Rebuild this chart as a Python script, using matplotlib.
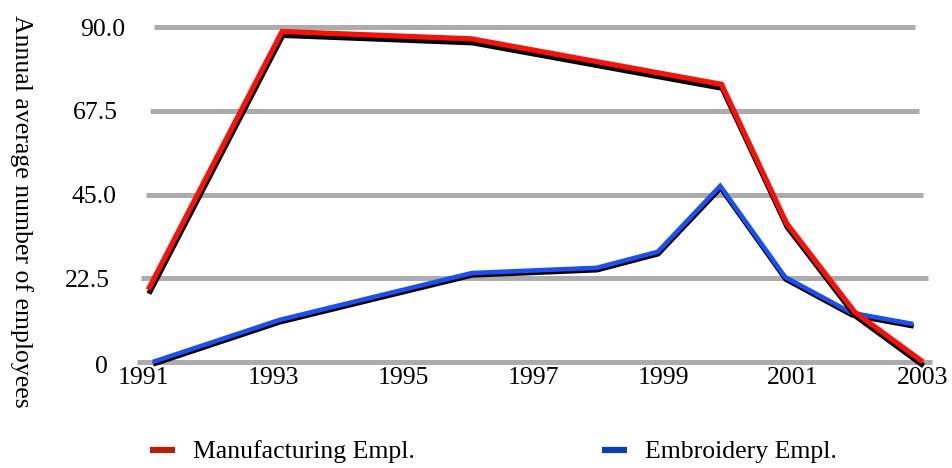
import matplotlib
matplotlib.use("Agg")
import matplotlib.pyplot as plt
import matplotlib.patheffects as pe
from matplotlib.lines import Line2D
from matplotlib.transforms import ScaledTranslation

# Annual average employment, read as (year, value) pairs
manuf_years = [1991.08, 1993.14, 1996.06, 1997.98, 1998.92, 1999.9, 2000.9, 2001.95, 2003.0]
manuf_empl = [19.4, 88.8, 86.8, 80.7, 77.7, 74.6, 37.3, 13.4, 0.0]

embr_years = [1991.15, 1993.1, 1996.06, 1997.98, 1998.92, 1999.88, 2000.88, 2001.9, 2002.85]
embr_empl = [0.0, 11.3, 23.9, 25.3, 29.6, 47.3, 22.8, 13.2, 10.2]

y_ticks = [0, 22.5, 45.0, 67.5, 90.0]
y_tick_labels = ["0", "22.5", "45.0", "67.5", "90.0"]
x_ticks = [1991, 1993, 1995, 1997, 1999, 2001, 2003]
x_tick_labels = ["1991", "1993", "1995", "1997", "1999", "2001", "2003"]

series_names = ["Manufacturing Empl.", "Embroidery Empl."]
line_colors = ["#f5120a", "#1c4ef0"]
legend_colors = ["#b4200e", "#0c40ac"]

FONT = "Liberation Serif"
FS = 18.5
W, H = 953, 468

fig = plt.figure(figsize=(W / 100, H / 100), dpi=100)
ax = fig.add_axes([130 / W, (H - 366) / H, 810 / W, 350 / H])

ax.set_xlim(1990.8, 2003.2615)
ax.set_ylim(-4 / 3.7222, 90 + 11 / 3.7222)
for s in ax.spines.values():
    s.set_visible(False)

# horizontal grid bands, slightly inset for a receding look
grid_spans = [(0.0086, 0.990), (0.0136, 0.985), (0.0198, 0.979), (0.0247, 0.974), (0.0296, 0.969)]
for yv, (a, b) in zip(y_ticks, grid_spans):
    ax.axhline(yv, xmin=a, xmax=b, color="#acacac", lw=3.6, zorder=1,
               solid_capstyle="butt")

# lines with a dark drop shadow underneath
ax.plot(manuf_years, manuf_empl, color=line_colors[0], lw=3.8, zorder=4,
        clip_on=False, solid_joinstyle="miter", solid_capstyle="butt",
        path_effects=[pe.SimpleLineShadow(offset=(0.5, -2.8), shadow_color="black",
                                          alpha=1.0, rho=1.0),
                      pe.Normal()])
ax.plot(embr_years, embr_empl, color=line_colors[1], lw=3.3, zorder=3,
        clip_on=False, solid_joinstyle="miter", solid_capstyle="butt",
        path_effects=[pe.SimpleLineShadow(offset=(0.3, -1.7), shadow_color="black",
                                          alpha=1.0, rho=1.0),
                      pe.Normal()])

ax.set_yticks(y_ticks)
ax.set_yticklabels(y_tick_labels, fontfamily=FONT, fontsize=FS)
ax.set_xticks(x_ticks)
ax.set_xticklabels(x_tick_labels, fontfamily=FONT, fontsize=FS)
ax.tick_params(axis="y", length=0, pad=3.6)
ax.tick_params(axis="x", length=0, pad=0.5)

# y labels step leftwards toward the bottom
y_shift_px = [(-17, -3), (-15, 0), (-8, 0), (-7, 0), (0, 0)]
for lbl, (dx, dy) in zip(ax.get_yticklabels(), y_shift_px):
    lbl.set_transform(lbl.get_transform() + ScaledTranslation(dx / 100, dy / 100, fig.dpi_scale_trans))

fig.text(21 / W, 1 - 211 / H, "Annual average number of employees", rotation=270,
         ha="center", va="center", fontfamily=FONT, fontsize=FS)

handles = [Line2D([], [], color=c, lw=4.5, solid_capstyle="butt") for c in legend_colors]
fig.legend(handles, series_names, loc="center", bbox_to_anchor=(0.518, 1 - 452 / H),
           ncol=2, frameon=False, prop={"family": FONT, "size": FS},
           handlelength=0.96, handletextpad=0.7, columnspacing=7.3, borderpad=0)

fig.savefig("out.png", dpi=100)
